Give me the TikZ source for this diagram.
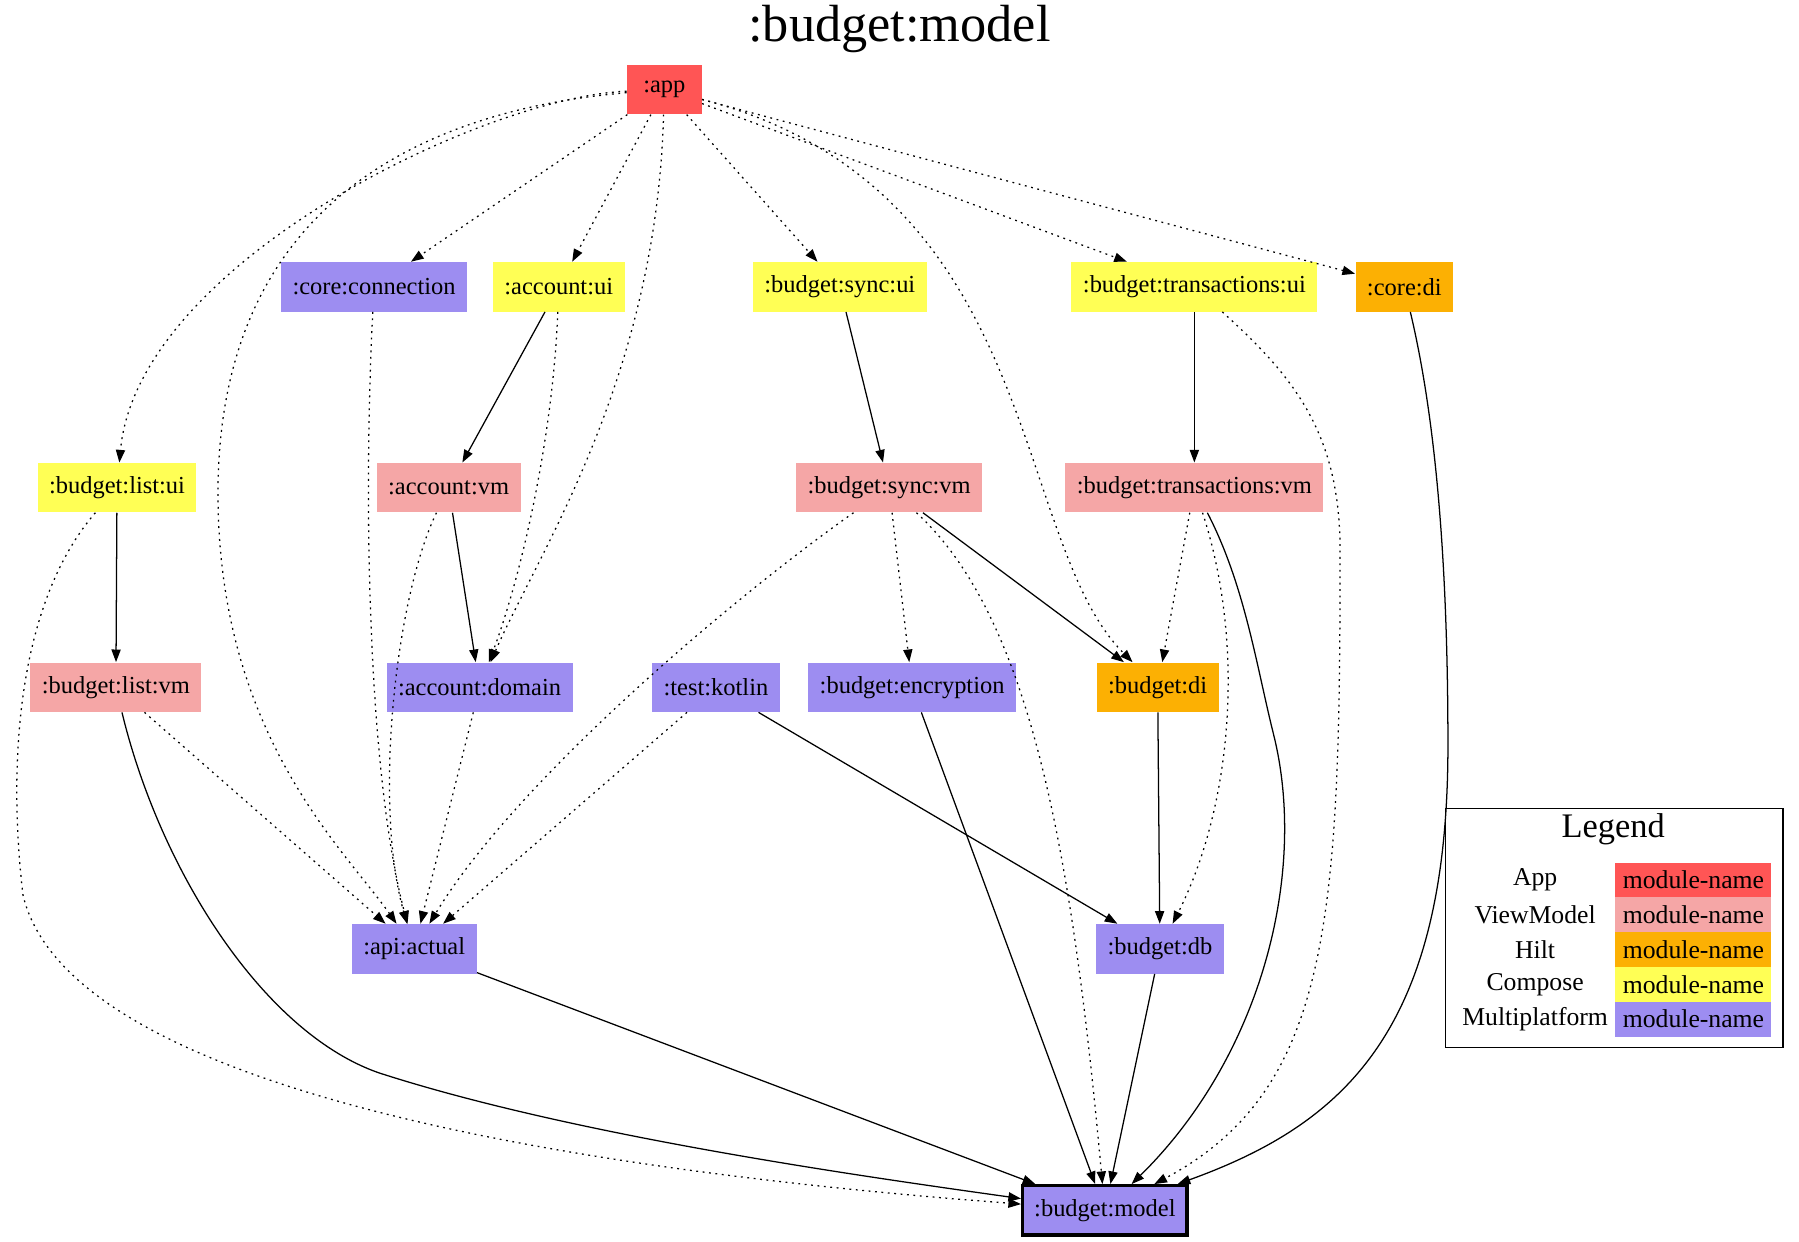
\documentclass[tikz,border=0pt]{standalone}
\usepackage{fontspec}
\setmainfont{Liberation Serif}
\usetikzlibrary{arrows.meta}
\definecolor{appred}{HTML}{FF5555}
\definecolor{vmpink}{HTML}{F5A6A6}
\definecolor{hiltorange}{HTML}{FCB003}
\definecolor{composeyellow}{HTML}{FFFF55}
\definecolor{mppurple}{HTML}{9D8DF1}

\begin{document}
\begin{tikzpicture}[x=0.5pt,y=0.5pt,
	mod/.style={rectangle, minimum width=32.5pt, minimum height=21.5pt, inner xsep=5pt, inner ysep=0pt, font=\fontsize{10.66}{12}\selectfont},
	appmod/.style={mod, fill=appred},
	vmmod/.style={mod, fill=vmpink},
	hiltmod/.style={mod, fill=hiltorange},
	cmpmod/.style={mod, fill=composeyellow},
	mpmod/.style={mod, fill=mppurple},
	dep/.style={line width=0.55pt, -{Triangle[length=5.5pt,width=4pt]}},
	opt/.style={dep, dash pattern=on 0.8pt off 2pt},
	legtext/.style={font=\fontsize{11.2}{13}\selectfont},
	legcell/.style={legtext, minimum width=68pt, minimum height=15.2pt, inner sep=0pt}]
	\useasboundingbox (0,0) rectangle (1568,-1082.5);
	\node[font=\fontsize{22.8}{26}\selectfont] (title) at (784,-25) {:budget:model};
	% modules
	\node[appmod] (app) at (579,-78) {:app};
	\node[mpmod] (ccon) at (326,-250) {:core:connection};
	\node[cmpmod] (aui) at (487,-250) {:account:ui};
	\node[cmpmod] (bsui) at (732,-250) {:budget:sync:ui};
	\node[cmpmod] (btui) at (1041,-250) {:budget:transactions:ui};
	\node[hiltmod] (cdi) at (1224,-250) {:core:di};
	\node[cmpmod] (blui) at (102,-425) {:budget:list:ui};
	\node[vmmod] (avm) at (391,-425) {:account:vm};
	\node[vmmod] (bsvm) at (775,-425) {:budget:sync:vm};
	\node[vmmod] (btvm) at (1041,-425) {:budget:transactions:vm};
	\node[vmmod] (blvm) at (101,-599) {:budget:list:vm};
	\node[mpmod] (adom) at (418,-599) {:account:domain};
	\node[mpmod] (tkot) at (624,-599) {:test:kotlin};
	\node[mpmod] (benc) at (795,-599) {:budget:encryption};
	\node[hiltmod] (bdi) at (1009,-599) {:budget:di};
	\node[mpmod] (api) at (361,-827) {:api:actual};
	\node[mpmod] (bdb) at (1011,-827) {:budget:db};
	\node[mpmod, draw, line width=1.5pt] (bmod) at (963,-1055) {:budget:model};
	% from :app
	\draw[opt] (app) .. controls (420,-85) and (120,-230) .. (blui);
	\draw[opt] (app) .. controls (380,-95) and (190,-170) .. (190,-430) .. controls (190,-640) and (300,-740) .. (api);
	\draw[opt] (app) -- (ccon);
	\draw[opt] (app) -- (aui);
	\draw[opt] (app) .. controls (572,-330) and (470,-480) .. (adom);
	\draw[opt] (app) -- (bsui);
	\draw[opt] (app) .. controls (910,-165) and (880,-470) .. (bdi);
	\draw[opt] (app) -- (btui);
	\draw[opt] (app) -- (cdi);
	% second row
	\draw[opt] (ccon) .. controls (316,-450) and (322,-680) .. (api);
	\draw[dep] (aui) -- (avm);
	\draw[opt] (aui) .. controls (482,-380) and (455,-500) .. (adom);
	\draw[dep] (bsui) -- (bsvm);
	\draw[dep] (btui) -- (btvm);
	\draw[opt] (btui) .. controls (1130,-330) and (1168,-380) .. (1168,-480) .. controls (1168,-800) and (1160,-950) .. (bmod);
	\draw[dep] (cdi) .. controls (1255,-380) and (1262,-520) .. (1262,-650) .. controls (1262,-900) and (1170,-980) .. (bmod);
	% third row
	\draw[dep] (blui) -- (blvm);
	\draw[opt] (blui) .. controls (20,-520) and (5,-650) .. (20,-780) .. controls (60,-950) and (500,-1020) .. (bmod);
	\draw[dep] (avm) -- (adom);
	\draw[opt] (avm) .. controls (345,-520) and (325,-700) .. (api);
	\draw[opt] (bsvm) .. controls (640,-520) and (450,-680) .. (api);
	\draw[opt] (bsvm) -- (benc);
	\draw[opt] (bsvm) .. controls (900,-540) and (935,-750) .. (bmod);
	\draw[dep] (bsvm) -- (bdi);
	\draw[opt] (btvm) -- (bdi);
	\draw[opt] (btvm) .. controls (1085,-560) and (1075,-700) .. (bdb);
	\draw[dep] (btvm) .. controls (1085,-510) and (1095,-580) .. (1110,-640) .. controls (1140,-760) and (1100,-920) .. (bmod);
	% fourth row
	\draw[dep] (blvm) .. controls (140,-760) and (230,-900) .. (330,-935) .. controls (500,-990) and (750,-1025) .. (bmod);
	\draw[opt] (blvm) -- (api);
	\draw[opt] (adom) -- (api);
	\draw[opt] (tkot) -- (api);
	\draw[dep] (tkot) -- (bdb);
	\draw[dep] (benc) -- (bmod);
	\draw[dep] (bdi) -- (bdb);
	\draw[dep] (api) -- (bmod);
	\draw[dep] (bdb) -- (bmod);
	% legend
	\draw[line width=0.5pt] (1260,-705) rectangle (1554,-913);
	\node[font=\fontsize{15}{18}\selectfont] (legtitle) at (1406,-723) {Legend};
	\foreach \lab/\col [count=\i] in {App/appred, ViewModel/vmpink, Hilt/hiltorange, Compose/composeyellow, Multiplatform/mppurple}{
		\node[legtext] (lab\i) at (1338,-736.7-30.3*\i) {\lab};
		\node[legcell, fill=\col] (cell\i) at (1476,-736.7-30.3*\i) {module-name};
	}
\end{tikzpicture}
\end{document}
